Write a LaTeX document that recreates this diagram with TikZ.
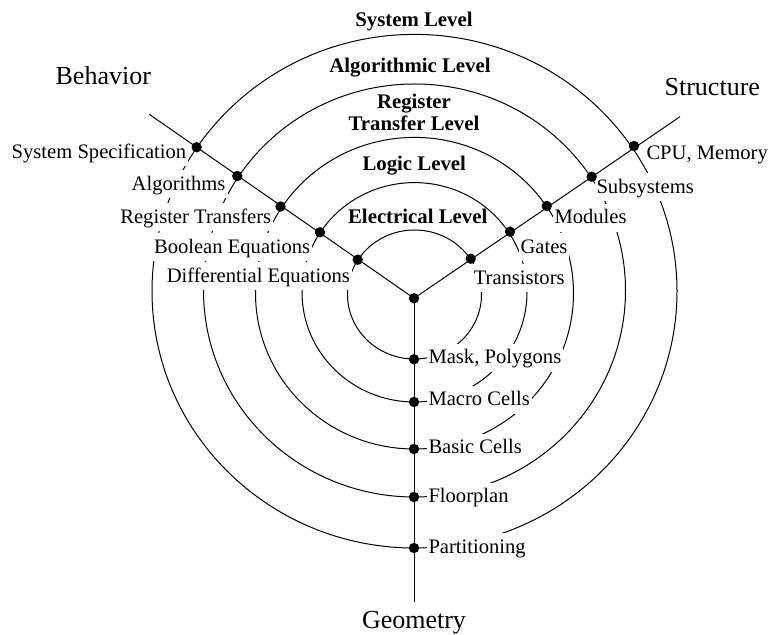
\documentclass[tikz,border=0pt]{standalone}
\usepackage{fontspec}
\setmainfont{Liberation Serif}
\usepackage{tikz}
\usetikzlibrary{calc}

\begin{document}
\begin{tikzpicture}[x=0.5pt, y=-0.5pt, line width=0.5pt,
  lbl/.style={fill=white, inner xsep=1pt, inner ysep=1pt, text height=9pt, text depth=3pt, font=\fontsize{10.3}{12}\selectfont},
  lvl/.style={inner sep=1pt, font=\fontsize{10.4}{11}\selectfont\bfseries},
  axisname/.style={inner sep=0pt, font=\fontsize{13}{15}\selectfont}]
  \useasboundingbox (0,0) rectangle (771,635);

  % Levels (circles)
  \draw (414.5,291.2) ellipse [x radius=262.5, y radius=256.8];
  \draw (414.5,290.5) ellipse [x radius=211, y radius=206.5];
  \draw (414.5,293.2) ellipse [x radius=159, y radius=155.8];
  \draw (414.5,292.3) ellipse [x radius=112.5, y radius=109.7];
  \draw (414.5,294.5) ellipse [x radius=67, y radius=64.5];

  % Level names
  \node[lvl, anchor=base] (syslvl) at (414,26.7) {System Level};
  \node[lvl, anchor=base] (alglvl) at (410,72.7) {Algorithmic Level};
  \node[lvl, align=center] (rtlvl) at (414,112) {Register\\Transfer Level};
  \node[lvl, anchor=base] (logiclvl) at (414.2,170.7) {Logic Level};
  \node[lvl, anchor=base] (eleclvl) at (417.7,223.3) {Electrical Level};

  % Behavior labels
  \node[lbl, anchor=base east] (sysspec) at (188.7,158.3) {System Specification};
  \node[lbl, anchor=base east] (algo) at (228,190.5) {Algorithms};
  \node[lbl, anchor=base east] (regtr) at (273.7,223.3) {Register Transfers};
  \node[lbl, anchor=base east] (boole) at (312.7,253.3) {Boolean Equations};
  \node[lbl, anchor=base east] (diffeq) at (352.5,282.5) {Differential Equations};

  % Structure labels
  \node[lbl, anchor=base west] (cpu) at (644,160) {CPU, Memory};
  \node[lbl, anchor=base west] (subsys) at (594,193.3) {Subsystems};
  \node[lbl, anchor=base west] (modules) at (552,224) {Modules};
  \node[lbl, anchor=base west] (gates) at (518,253.3) {Gates};
  \node[lbl, anchor=base west] (trans) at (471.3,284.5) {Transistors};

  % Geometry labels
  \node[lbl, anchor=base west] (mask) at (426,364) {Mask, Polygons};
  \node[lbl, anchor=base west] (macro) at (426,406) {Macro Cells};
  \node[lbl, anchor=base west] (basic) at (426,454) {Basic Cells};
  \node[lbl, anchor=base west] (floor) at (426,502.7) {Floorplan};
  \node[lbl, anchor=base west] (part) at (426,553.3) {Partitioning};

  % Axes
  \coordinate (O) at (414,298.3);
  \coordinate (Bend) at (149.3,114.3);
  \coordinate (Send) at (680,116.7);
  \coordinate (Gend) at (414,601.7);
  \draw (O) -- (Bend);
  \draw (O) -- (Send);
  \draw (O) -- (Gend);

  \node[axisname, anchor=base] (behav) at (103.3,85) {Behavior};
  \node[axisname, anchor=base] (struct) at (712.3,96) {Structure};
  \node[axisname, anchor=base] (geom) at (414,629) {Geometry};

  % Dots
  \fill (O) circle (2.6pt);
  \foreach \p in {(196.7,147.3), (237.3,176), (280.5,206.5), (320,232.3), (357.7,259.7),
                  (634,146), (591.7,176.7), (546.7,206), (510,231.7), (470.7,258.7),
                  (414,359.3), (414,402), (414,449), (414,497), (414,548)}
    \fill \p circle (2.6pt);
\end{tikzpicture}
\end{document}
